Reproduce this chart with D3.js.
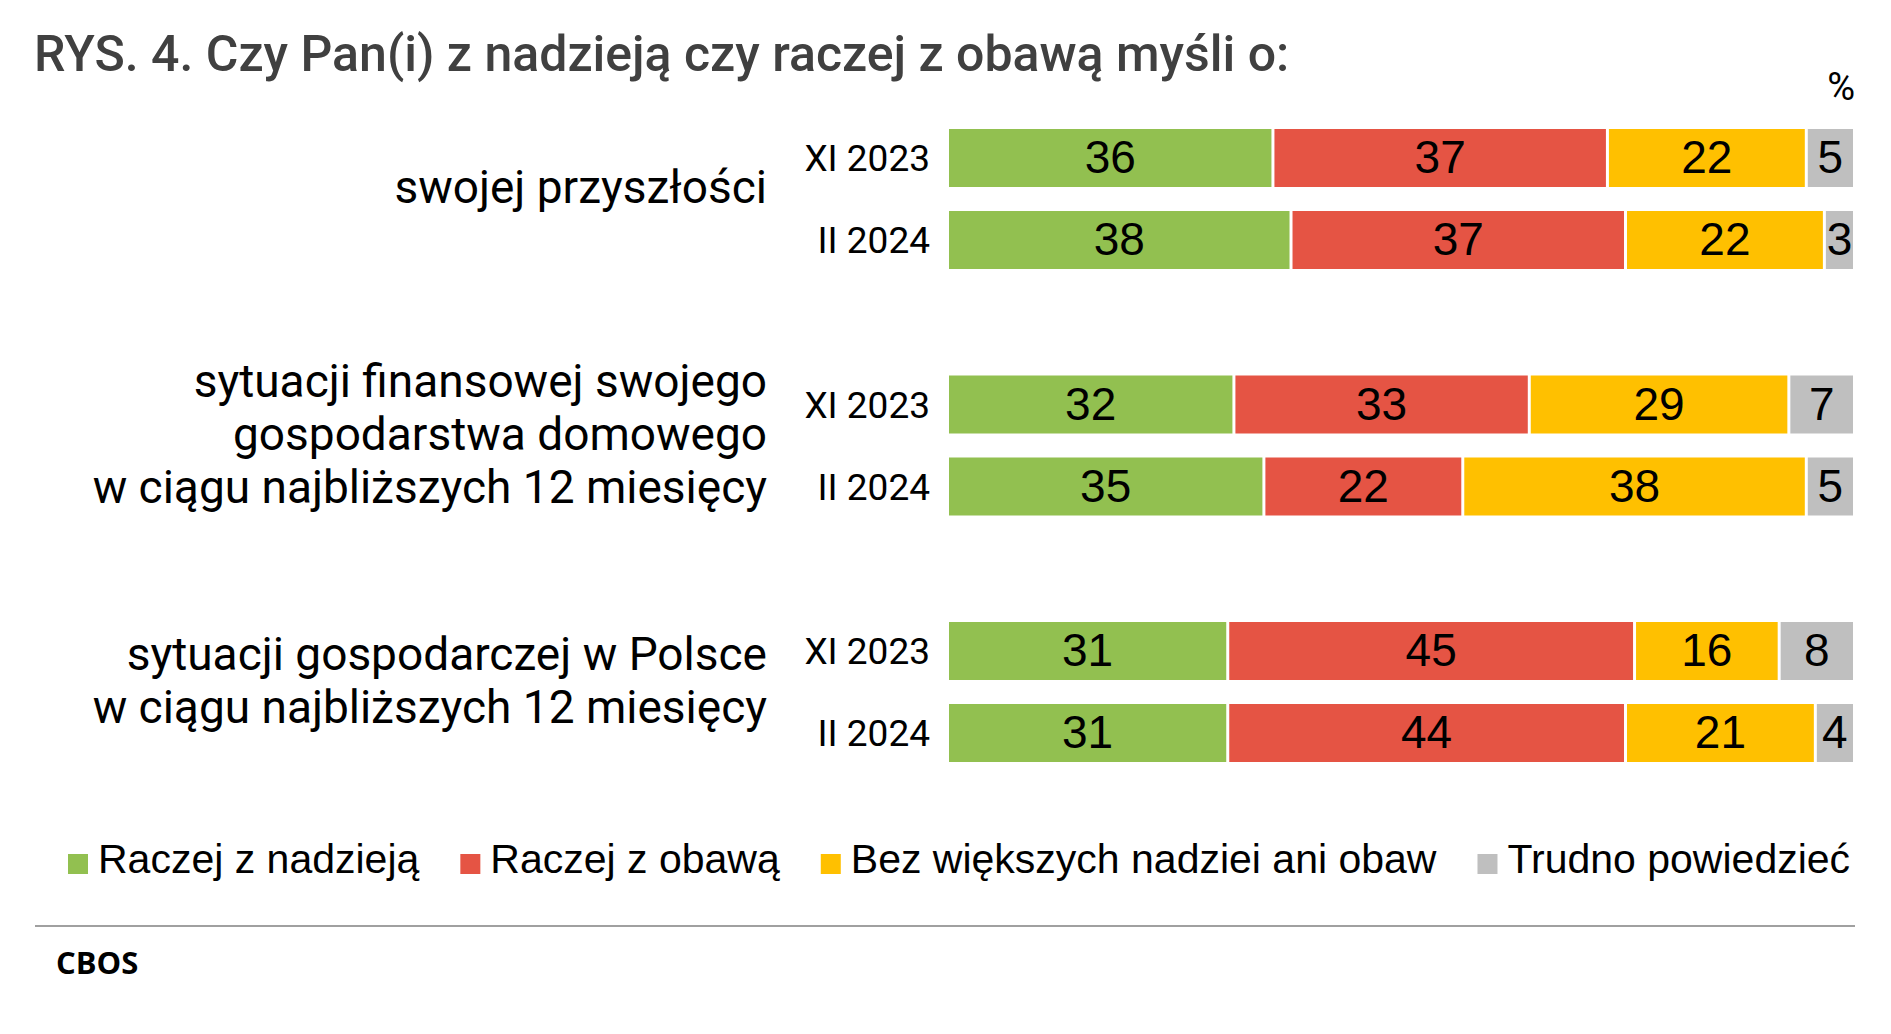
<!DOCTYPE html>
<html>
<head>
<meta charset="utf-8">
<script src="https://cdn.jsdelivr.net/npm/d3@7"></script>
<style>
  html, body { margin: 0; padding: 0; background: #fff; }
  svg { display: block; }
</style>
</head>
<body>
<div id="chart"></div>
<script>
// Chart data
const categories = [
  ['swojej przyszłości'],
  ['sytuacji finansowej swojego', 'gospodarstwa domowego', 'w ciągu najbliższych 12 miesięcy'],
  ['sytuacji gospodarczej w Polsce', 'w ciągu najbliższych 12 miesięcy']
];
const periods = ['XI 2023', 'II 2024'];
const seriesNames = ['Raczej z nadzieją', 'Raczej z obawą', 'Bez większych nadziei ani obaw', 'Trudno powiedzieć'];
// one value per row: category 1 (XI, II), category 2 (XI, II), category 3 (XI, II)
const hope = [36, 38, 32, 35, 31, 31];
const fear = [37, 37, 33, 22, 45, 44];
const neutral = [22, 22, 29, 38, 16, 21];
const hard = [5, 3, 7, 5, 8, 4];
const colors = ['#92c050', '#e55444', '#ffc000', '#bfbfbf'];

const W = 1891, H = 1034;
const BAR_LEFT = 949, BAR_RIGHT = 1853;

const svg = d3.select('#chart')
  .append('svg')
  .attr('width', W)
  .attr('height', H);

svg.append('rect').attr('width', W).attr('height', H).attr('fill', '#fff');

// Title
svg.append('text')
  .attr('x', 34)
  .attr('y', 71)
  .attr('font-family', 'Roboto')
  .attr('font-weight', 500)
  .attr('font-size', 50)
  .attr('fill', '#404040')
  .text('RYS. 4. Czy Pan(i) z nadzieją czy raczej z obawą myśli o:');

svg.append('text')
  .attr('x', 1855)
  .attr('y', 100)
  .attr('text-anchor', 'end')
  .attr('font-family', 'Roboto')
  .attr('font-size', 38)
  .attr('fill', '#000')
  .text('%');

// Build rows from the arrays
const series = [hope, fear, neutral, hard];
const rows = [];
categories.forEach((cat, ci) => {
  periods.forEach((p, pi) => {
    const i = ci * periods.length + pi;
    rows.push({ cat: ci, period: p, values: series.map(s => s[i]) });
  });
});

// Scales
const yGroup = d3.scalePoint()
  .domain(d3.range(categories.length))
  .range([199, 692]);

const yRow = d3.scaleBand()
  .domain(periods)
  .range([-70, 70])
  .paddingInner(24 / 82);

const GAP = 3;

rows.forEach(row => {
  // each bar fills the full width (row 3 sums to 101 after rounding)
  const total = d3.sum(row.values);
  const x = d3.scaleLinear().domain([0, total]).range([BAR_LEFT, BAR_RIGHT]);
  const y0 = yGroup(row.cat) + yRow(row.period);
  const cy = y0 + yRow.bandwidth() / 2;

  let acc = 0;
  const segs = row.values.map((v, k) => {
    const s = { start: acc, end: acc + v, value: v, k: k };
    acc += v;
    return s;
  });

  const g = svg.append('g');

  g.selectAll('rect')
    .data(segs)
    .enter()
    .append('rect')
    .attr('x', d => x(d.start))
    .attr('y', y0)
    .attr('width', d => x(d.end) - x(d.start) - (d.k < segs.length - 1 ? GAP : 0))
    .attr('height', yRow.bandwidth())
    .attr('fill', d => colors[d.k]);

  g.selectAll('text.val')
    .data(segs)
    .enter()
    .append('text')
    .attr('class', 'val')
    .attr('x', d => (x(d.start) + x(d.end) - (d.k < segs.length - 1 ? GAP : 0)) / 2)
    .attr('y', cy + 15)
    .attr('text-anchor', 'middle')
    .attr('font-family', 'Liberation Sans, Arial')
    .attr('font-size', 46)
    .attr('fill', '#000')
    .text(d => d.value);

  // period label
  svg.append('text')
    .attr('x', 930)
    .attr('y', cy + 13)
    .attr('text-anchor', 'end')
    .attr('font-family', 'Roboto')
    .attr('font-size', 37)
    .attr('fill', '#000')
    .text(row.period);
});

// Category labels
const LINE_H = 53;
categories.forEach((lines, ci) => {
  const t = svg.append('text')
    .attr('text-anchor', 'end')
    .attr('font-family', 'Roboto')
    .attr('font-size', 46)
    .attr('fill', '#000');
  lines.forEach((ln, li) => {
    t.append('tspan')
      .attr('x', 767)
      .attr('y', yGroup(ci) + 4 + (li - (lines.length - 1) / 2) * LINE_H)
      .text(ln);
  });
});

// Legend
let lx = 68;
seriesNames.forEach((name, k) => {
  svg.append('rect')
    .attr('x', lx)
    .attr('y', 854)
    .attr('width', 20)
    .attr('height', 20)
    .attr('fill', colors[k]);
  const t = svg.append('text')
    .attr('x', lx + 30)
    .attr('y', 873)
    .attr('font-family', 'Liberation Sans, Arial')
    .attr('font-size', 41)
    .attr('fill', '#000')
    .text(name);
  lx = lx + 30 + t.node().getComputedTextLength() + 41;
});

// Bottom rule and source
svg.append('line')
  .attr('x1', 35)
  .attr('x2', 1855)
  .attr('y1', 926)
  .attr('y2', 926)
  .attr('stroke', '#a0a0a0')
  .attr('stroke-width', 2);

svg.append('text')
  .attr('x', 56)
  .attr('y', 974)
  .attr('font-family', 'Open Sans')
  .attr('font-weight', 700)
  .attr('font-size', 31)
  .attr('fill', '#000')
  .text('CBOS');
</script>
</body>
</html>
